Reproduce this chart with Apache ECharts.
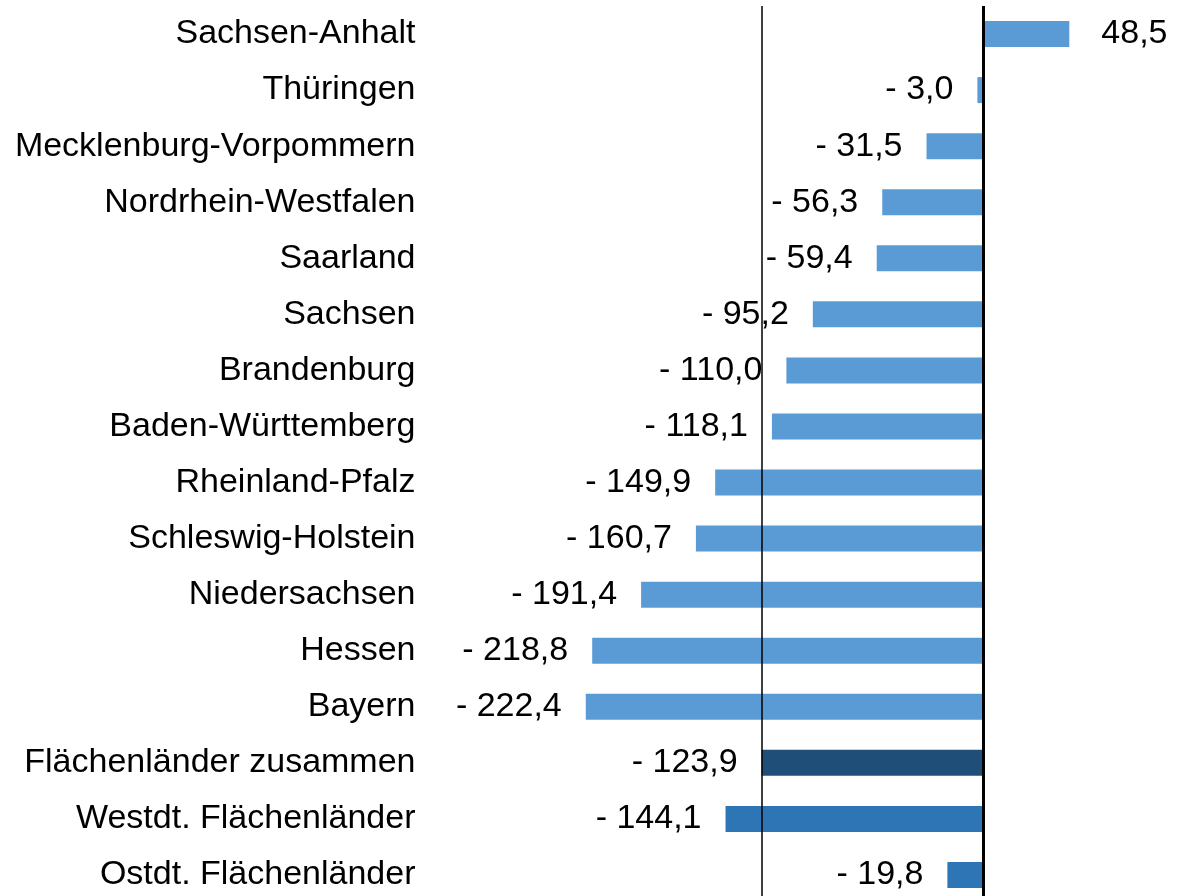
<!DOCTYPE html>
<html>
<head>
<meta charset="utf-8">
<script src="https://cdn.jsdelivr.net/npm/echarts@6/dist/echarts.min.js"></script>
<style>
  html, body { margin: 0; padding: 0; background: #fff; overflow: hidden; }
  #chart { width: 1182px; height: 904px; }
</style>
</head>
<body>
<div id="chart"></div>
<script>
const laender = [
  'Sachsen-Anhalt', 'Thüringen', 'Mecklenburg-Vorpommern', 'Nordrhein-Westfalen',
  'Saarland', 'Sachsen', 'Brandenburg', 'Baden-Württemberg', 'Rheinland-Pfalz',
  'Schleswig-Holstein', 'Niedersachsen', 'Hessen', 'Bayern',
  'Flächenländer zusammen', 'Westdt. Flächenländer', 'Ostdt. Flächenländer'
]
const werte = [
  48.5, -3.0, -31.5, -56.3, -59.4, -95.2, -110.0, -118.1, -149.9,
  -160.7, -191.4, -218.8, -222.4, -123.9, -144.1, -19.8
]
const farben = [
  '#5B9BD5', '#5B9BD5', '#5B9BD5', '#5B9BD5', '#5B9BD5', '#5B9BD5', '#5B9BD5', '#5B9BD5',
  '#5B9BD5', '#5B9BD5', '#5B9BD5', '#5B9BD5', '#5B9BD5', '#1F4E79', '#2E75B6', '#2E75B6'
]
const durchschnitt = -123.9

const font = '"Liberation Sans", Arial, sans-serif'

const fmt = v => {
  const s = Math.abs(v).toFixed(1).replace('.', ',')
  return v < 0 ? '- ' + s : s
}

const chart = echarts.init(document.getElementById('chart'))
chart.setOption({
  animation: false,
  grid: { left: 536.5, width: 624.75, top: 6, height: 897 },
  xAxis: {
    type: 'value',
    min: -250,
    max: 100,
    show: false,
  },
  yAxis: {
    type: 'category',
    data: laender,
    inverse: true,
    axisLine: { show: false },
    axisTick: { show: false },
    axisLabel: {
      margin: 121,
      color: '#000',
      fontSize: 34,
      fontFamily: font,
    },
  },
  series: [
    {
      type: 'bar',
      barWidth: 26,
      data: werte.map((v, i) => ({
        value: v,
        itemStyle: { color: farben[i] },
        label: {
          show: true,
          position: v < 0 ? 'left' : 'right',
          distance: v < 0 ? 24 : 32,
          formatter: fmt(v),
          color: '#000',
          fontSize: 34,
          fontFamily: font,
        },
      })),
      markLine: {
        symbol: 'none',
        silent: true,
        label: { show: false },
        data: [
          { xAxis: 0, lineStyle: { color: '#000', width: 3, type: 'solid' } },
          { xAxis: durchschnitt, lineStyle: { color: '#000', width: 1.5, type: 'solid' } },
        ],
      },
    },
  ],
})
</script>
</body>
</html>
